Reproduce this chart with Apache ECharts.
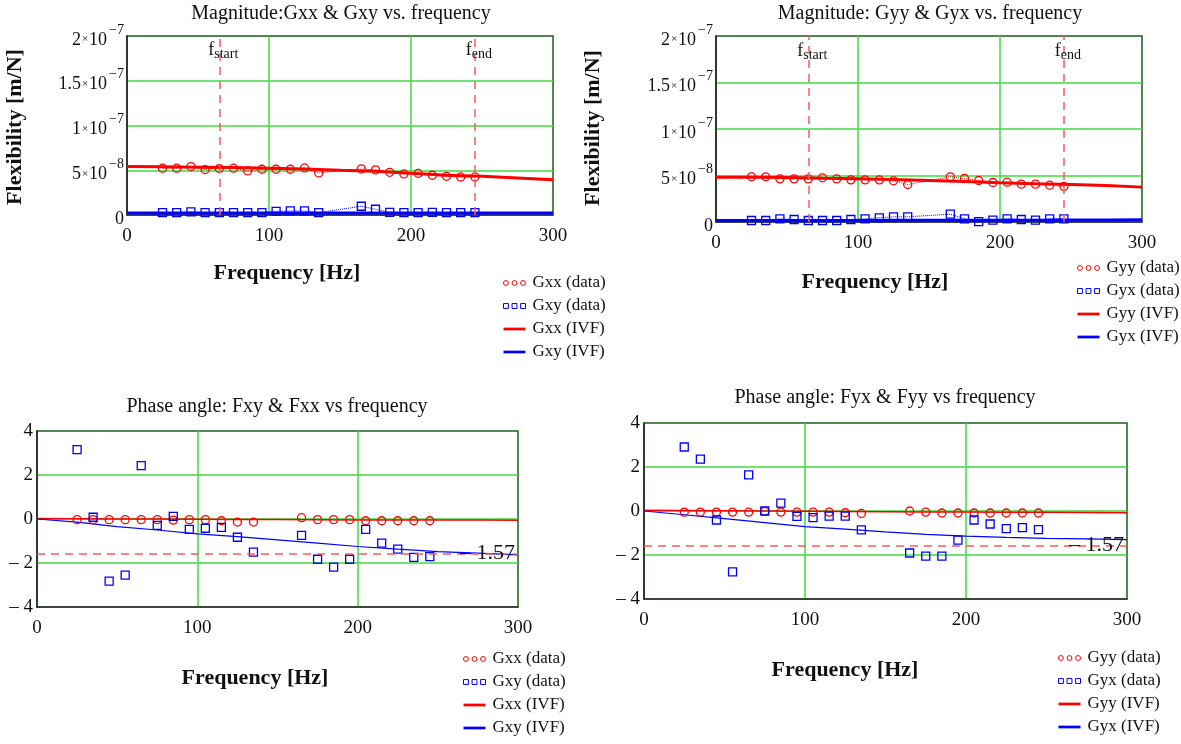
<!DOCTYPE html>
<html>
<head>
<meta charset="utf-8">
<script src="https://cdn.jsdelivr.net/npm/echarts@6/dist/echarts.min.js"></script>
<style>
  html, body { margin: 0; padding: 0; background: #fff; }
  #chartIVF { width: 1181px; height: 744px; }
</style>
</head>
<body>
<div id="chartIVF"></div>
<script>
// measured frequencies [Hz]
var freqs = [25, 35, 45, 55, 65, 75, 85, 95, 105, 115, 125, 135, 165, 175, 185, 195, 205, 215, 225, 235, 245];
var ivfFreqs = [0, 25, 50, 75, 100, 125, 150, 175, 200, 225, 250, 275, 300];

// magnitudes, unit 1e-8 m/N
var gxxMag = [5.23, 5.23, 5.41, 5.08, 5.19, 5.23, 4.92, 5.11, 5.11, 5.11, 5.26, 4.70, 5.15, 5.04, 4.77, 4.59, 4.66, 4.44, 4.32, 4.25, 4.25];
var gxyMag = [0.26, 0.26, 0.34, 0.26, 0.26, 0.26, 0.26, 0.26, 0.41, 0.45, 0.45, 0.26, 0.98, 0.64, 0.30, 0.26, 0.26, 0.30, 0.26, 0.26, 0.26];
var gxxIvf = [5.41, 5.38, 5.34, 5.30, 5.23, 5.15, 5.00, 4.89, 4.66, 4.44, 4.32, 4.14, 3.95];
var gxyIvf = [0.23, 0.23, 0.23, 0.23, 0.23, 0.23, 0.23, 0.23, 0.23, 0.23, 0.23, 0.23, 0.23];

var gyyMag = [4.86, 4.86, 4.64, 4.64, 4.64, 4.75, 4.64, 4.53, 4.53, 4.53, 4.43, 4.03, 4.86, 4.68, 4.46, 4.25, 4.28, 4.07, 4.07, 3.96, 3.82];
var gyxMag = [0.16, 0.16, 0.34, 0.27, 0.16, 0.16, 0.16, 0.27, 0.34, 0.45, 0.56, 0.56, 0.84, 0.34, 0.05, 0.20, 0.34, 0.27, 0.20, 0.34, 0.34];
var gyyIvf = [4.82, 4.82, 4.79, 4.71, 4.64, 4.57, 4.46, 4.35, 4.21, 4.10, 4.03, 3.92, 3.75];
var gyxIvf = [0.16, 0.16, 0.16, 0.17, 0.17, 0.18, 0.18, 0.19, 0.20, 0.20, 0.21, 0.22, 0.23];

// phase angles [rad]
var fxxPh = [-0.03, -0.03, -0.03, -0.03, -0.03, -0.03, -0.05, -0.03, -0.03, -0.08, -0.14, -0.14, 0.06, -0.03, -0.03, -0.03, -0.08, -0.08, -0.08, -0.08, -0.08];
var fxyPh = [3.15, 0.08, -2.82, -2.55, 2.43, -0.29, 0.12, -0.47, -0.42, -0.38, -0.83, -1.51, -0.74, -1.83, -2.19, -1.83, -0.47, -1.10, -1.37, -1.74, -1.71];
var fxxIvf = [0.02, 0.01, 0.00, 0.00, -0.01, -0.02, -0.02, -0.03, -0.04, -0.04, -0.05, -0.05, -0.06];
var fxyIvf = [0.00, -0.14, -0.35, -0.50, -0.68, -0.80, -0.95, -1.10, -1.25, -1.37, -1.48, -1.55, -1.63];

var fyyPh = [-0.05, -0.05, -0.05, -0.05, -0.05, -0.02, -0.05, -0.05, -0.05, -0.05, -0.08, -0.11, 0.00, -0.05, -0.09, -0.09, -0.09, -0.09, -0.09, -0.09, -0.09];
var fyxPh = [2.91, 2.36, -0.41, -2.77, 1.64, 0.00, 0.36, -0.24, -0.30, -0.23, -0.23, -0.86, -1.91, -2.05, -2.05, -1.32, -0.41, -0.59, -0.80, -0.76, -0.85];
var fyyIvf = [0.03, 0.02, 0.01, 0.00, -0.01, -0.02, -0.03, -0.04, -0.05, -0.06, -0.06, -0.07, -0.08];
var fyxIvf = [0.00, -0.17, -0.35, -0.53, -0.71, -0.82, -0.95, -1.06, -1.14, -1.20, -1.24, -1.27, -1.30];

// markers
var fStart = 65;
var fEnd = 245;
var phaseRef = -1.57;

// tick labels
var magTickMant = ['0', '5', '1', '1.5', '2'];
var magTickExp = ['', '\u22128', '\u22127', '\u22127', '\u22127'];
var phaseTicks = ['\u2013 4', '\u2013 2', '0', '2', '4'];

var SERIF = "'Liberation Serif', 'Times New Roman', serif";
var GRID_GREEN = '#3fdc3f';
var FRAME = '#1d5b1d';
var RED = '#ff0000';
var BLUE = '#0000ff';

// legend icons
var ICON_CIRCLES = 'path://M1,3a2,2 0 1,0 4,0a2,2 0 1,0 -4,0M8,3a2,2 0 1,0 4,0a2,2 0 1,0 -4,0M15,3a2,2 0 1,0 4,0a2,2 0 1,0 -4,0';
var ICON_SQUARES = 'path://M1,1h4v4h-4zM8,1h4v4h-4zM15,1h4v4h-4z';
var ICON_LINE = 'path://M0,0H20V2.5H0Z';

function pairs(xs, ys) {
  return xs.map(function (x, i) { return [x, ys[i]]; });
}

function xAxisFor(g) {
  return {
    gridIndex: g, type: 'value', min: 0, max: 300, interval: 100,
    axisLine: { show: true, onZero: false, lineStyle: { color: '#333', width: 1.5 } },
    axisTick: { show: false },
    axisLabel: { fontFamily: SERIF, fontSize: 19, color: '#111', margin: 12 },
    splitLine: { show: true, showMinLine: false, showMaxLine: false, lineStyle: { color: GRID_GREEN, width: 1.5 } }
  };
}

function magYAxis(g) {
  return {
    gridIndex: g, type: 'value', min: 0, max: 20, interval: 5,
    axisLine: { show: true, onZero: false, lineStyle: { color: '#222', width: 1.5 } },
    axisTick: { show: false },
    splitLine: { show: true, showMinLine: false, showMaxLine: false, lineStyle: { color: GRID_GREEN, width: 1.5 } },
    axisLabel: {
      margin: 3,
      formatter: function (v) {
        var i = Math.round(v / 5);
        if (i === 0) return '{m|0}';
        return '{m|' + magTickMant[i] + '}{x|\u00d7}{m|10}{e|' + magTickExp[i] + '}';
      },
      rich: {
        m: { fontFamily: SERIF, fontSize: 18, color: '#111', lineHeight: 26, verticalAlign: 'bottom' },
        x: { fontFamily: SERIF, fontSize: 11, color: '#111', lineHeight: 26, verticalAlign: 'bottom', padding: [0, 1, 4, 1] },
        e: { fontFamily: SERIF, fontSize: 14, color: '#111', lineHeight: 26, verticalAlign: 'top', padding: [0, 0, 0, 2] }
      }
    }
  };
}

function phaseYAxis(g) {
  return {
    gridIndex: g, type: 'value', min: -4, max: 4, interval: 2,
    axisLine: { show: true, onZero: false, lineStyle: { color: '#222', width: 1.5 } },
    axisTick: { show: false },
    splitLine: { show: true, showMinLine: false, showMaxLine: false, lineStyle: { color: GRID_GREEN, width: 1.5 } },
    axisLabel: {
      margin: 4, fontFamily: SERIF, fontSize: 19, color: '#111',
      formatter: function (v) { return phaseTicks[Math.round((v + 4) / 2)]; }
    }
  };
}

function dataSeries(name, g, ys, symbol, color, dotted) {
  return {
    name: name, type: 'line', xAxisIndex: g, yAxisIndex: g,
    data: pairs(freqs, ys), symbol: symbol, symbolSize: 8, showSymbol: true,
    lineStyle: dotted ? { type: 'dotted', width: 1, color: color } : { width: 0, opacity: 0 },
    itemStyle: { color: 'rgba(0,0,0,0)', borderColor: color, borderWidth: 1.3 },
    z: 4
  };
}

function ivfSeries(name, g, ys, color, width) {
  return {
    name: name, type: 'line', xAxisIndex: g, yAxisIndex: g,
    data: pairs(ivfFreqs, ys), symbol: 'none', showSymbol: false,
    lineStyle: { color: color, width: width }, itemStyle: { color: color },
    z: 3
  };
}

// fstart / fend dashed lines + labels on the magnitude plots
function freqMarkers(s) {
  s.markLine = {
    silent: true, symbol: ['none', 'none'], label: { show: false },
    lineStyle: { type: [8, 6], color: '#ff5a5a', width: 1.5 },
    data: [{ xAxis: fStart }, { xAxis: fEnd }]
  };
  var rich = {
    f: { fontFamily: SERIF, fontSize: 18, color: '#111', lineHeight: 20, verticalAlign: 'top' },
    s: { fontFamily: SERIF, fontSize: 14, color: '#111', lineHeight: 20, verticalAlign: 'bottom' }
  };
  s.markPoint = {
    silent: true, symbol: 'circle', symbolSize: 0,
    label: { show: true, position: 'inside', offset: [4, 3], rich: rich },
    data: [
      { coord: [fStart, 18.6], label: { formatter: '{f|f}{s|start}' } },
      { coord: [fEnd, 18.6], label: { formatter: '{f|f}{s|end}' } }
    ]
  };
  return s;
}

function refMarker(s) {
  s.markLine = {
    silent: true, symbol: ['none', 'none'],
    lineStyle: { type: [8, 6], color: '#ff5a5a', width: 1.5 },
    label: { show: true, position: 'insideEnd', formatter: '\u2013 1.57', fontFamily: SERIF, fontSize: 22, color: '#111', distance: 3 },
    data: [{ yAxis: phaseRef }]
  };
  return s;
}

function legendFor(left, top, a, b) {
  return {
    left: left, top: top, height: 110, padding: 0, orient: 'vertical', selectedMode: false,
    itemWidth: 22, itemHeight: 6, itemGap: 5,
    textStyle: { fontFamily: SERIF, fontSize: 17, color: '#111', lineHeight: 18, padding: [0, 0, 0, 2] },
    data: [
      { name: a + ' (data)', icon: ICON_CIRCLES, itemStyle: { color: 'rgba(0,0,0,0)', borderColor: RED, borderWidth: 1 } },
      { name: b + ' (data)', icon: ICON_SQUARES, itemStyle: { color: 'rgba(0,0,0,0)', borderColor: BLUE, borderWidth: 1 } },
      { name: a + ' (IVF)', icon: ICON_LINE, itemStyle: { color: RED } },
      { name: b + ' (IVF)', icon: ICON_LINE, itemStyle: { color: BLUE } }
    ]
  };
}

function txt(x, y, text, size, bold, rot) {
  return {
    type: 'text', x: x, y: y, rotation: rot || 0, silent: true,
    style: { text: text, fill: '#111', font: (bold ? 'bold ' : '') + size + 'px ' + SERIF, align: 'center', verticalAlign: 'middle' }
  };
}

var gridBase = { show: true, borderColor: FRAME, borderWidth: 1.5, backgroundColor: '#fff', containLabel: false };

var chartIVF = echarts.init(document.getElementById('chartIVF'));
var option = {
  animation: false,
  backgroundColor: '#fff',
  grid: [
    Object.assign({ left: 127, top: 36, width: 426, height: 179 }, gridBase),
    Object.assign({ left: 716, top: 36, width: 426, height: 186 }, gridBase),
    Object.assign({ left: 37, top: 431, width: 481, height: 176 }, gridBase),
    Object.assign({ left: 644, top: 423, width: 483, height: 176 }, gridBase)
  ],
  xAxis: [xAxisFor(0), xAxisFor(1), xAxisFor(2), xAxisFor(3)],
  yAxis: [magYAxis(0), magYAxis(1), phaseYAxis(2), phaseYAxis(3)],
  legend: [
    legendFor(503, 274, 'Gxx', 'Gxy'),
    legendFor(1077, 259, 'Gyy', 'Gyx'),
    legendFor(463, 650, 'Gxx', 'Gxy'),
    legendFor(1058, 649, 'Gyy', 'Gyx')
  ],
  graphic: [
    txt(341, 14, 'Magnitude:Gxx & Gxy vs. frequency', 20),
    txt(930, 14, 'Magnitude: Gyy & Gyx vs. frequency', 20),
    txt(277, 407, 'Phase angle: Fxy & Fxx vs frequency', 20),
    txt(885, 398, 'Phase angle: Fyx & Fyy vs frequency', 20),
    txt(15, 127, 'Flexibility [m/N]', 22, true, Math.PI / 2),
    txt(593, 128, 'Flexibility [m/N]', 22, true, Math.PI / 2),
    txt(287, 273, 'Frequency [Hz]', 22, true),
    txt(875, 282, 'Frequency [Hz]', 22, true),
    txt(255, 678, 'Frequency [Hz]', 22, true),
    txt(845, 670, 'Frequency [Hz]', 22, true)
  ],
  series: [
    freqMarkers(ivfSeries('Gxx (IVF)', 0, gxxIvf, RED, 3)),
    ivfSeries('Gxy (IVF)', 0, gxyIvf, BLUE, 3),
    dataSeries('Gxx (data)', 0, gxxMag, 'circle', RED, true),
    dataSeries('Gxy (data)', 0, gxyMag, 'rect', BLUE, true),

    freqMarkers(ivfSeries('Gyy (IVF)', 1, gyyIvf, RED, 3)),
    ivfSeries('Gyx (IVF)', 1, gyxIvf, BLUE, 3),
    dataSeries('Gyy (data)', 1, gyyMag, 'circle', RED, true),
    dataSeries('Gyx (data)', 1, gyxMag, 'rect', BLUE, true),

    refMarker(ivfSeries('Gxx (IVF)', 2, fxxIvf, RED, 1.5)),
    ivfSeries('Gxy (IVF)', 2, fxyIvf, BLUE, 1.2),
    dataSeries('Gxx (data)', 2, fxxPh, 'circle', RED, false),
    dataSeries('Gxy (data)', 2, fxyPh, 'rect', BLUE, false),

    refMarker(ivfSeries('Gyy (IVF)', 3, fyyIvf, RED, 1.5)),
    ivfSeries('Gyx (IVF)', 3, fyxIvf, BLUE, 1.2),
    dataSeries('Gyy (data)', 3, fyyPh, 'circle', RED, false),
    dataSeries('Gyx (data)', 3, fyxPh, 'rect', BLUE, false)
  ]
};
chartIVF.setOption(option);
</script>
</body>
</html>
